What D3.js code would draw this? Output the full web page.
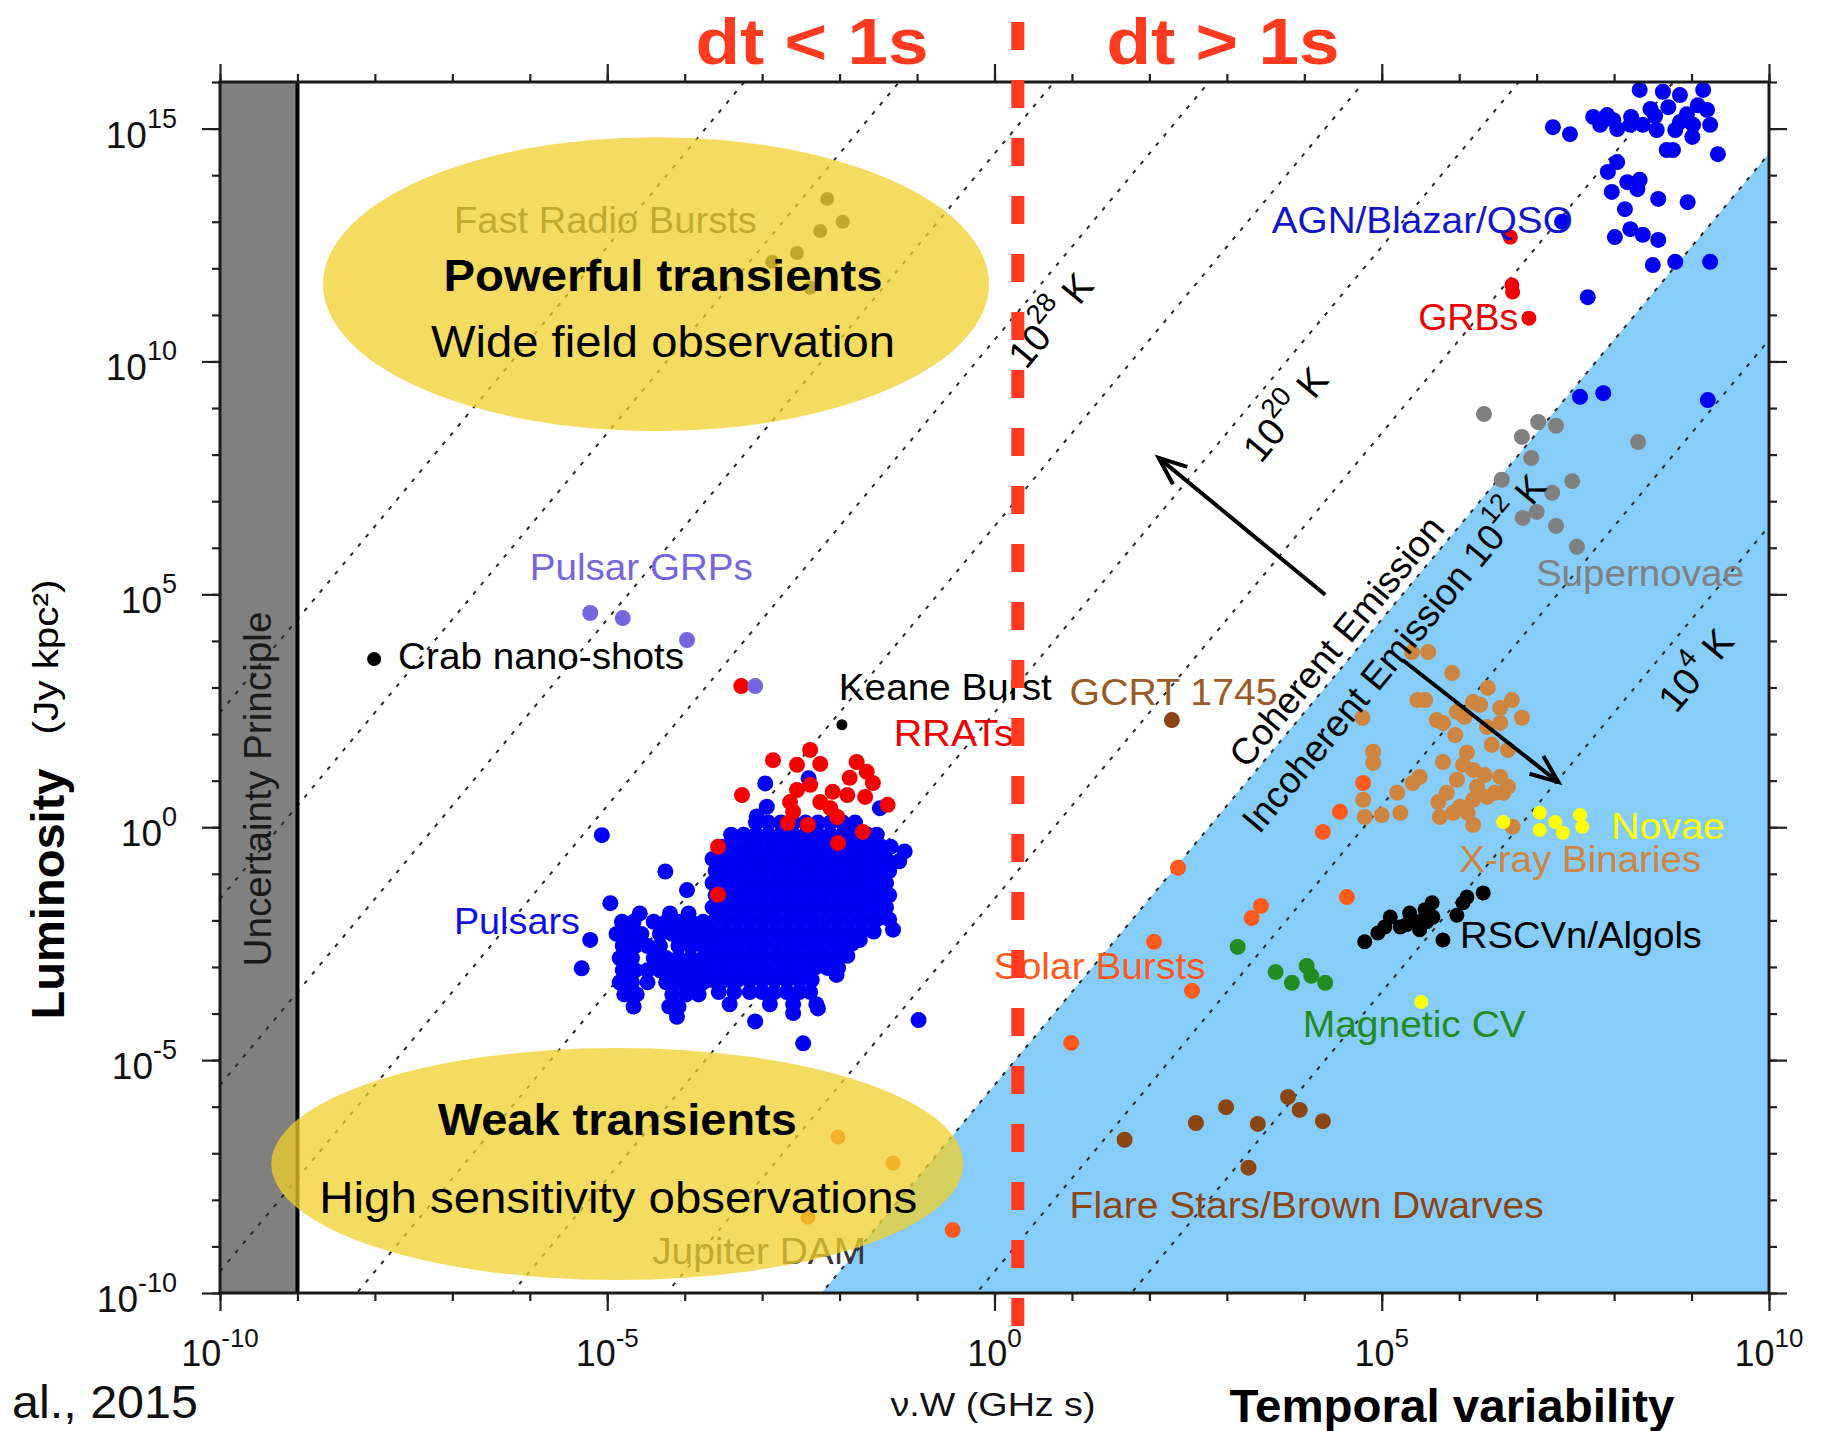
<!DOCTYPE html>
<html>
<head>
<meta charset="utf-8">
<script src="https://cdn.jsdelivr.net/npm/d3@7"></script>
<style>
  body { margin: 0; background: #fff; }
  svg { display: block; }
  text { font-family: "Liberation Sans", Arial, Helvetica, sans-serif; }
</style>
</head>
<body>
<svg id="chart" width="1827" height="1431"></svg>
<script>
// ---------------------------------------------------------------------------
// Radio transient phase space: luminosity vs. nu*W, with brightness-temperature
// lines. All source positions are given as [log10(nu W / GHz s), log10(L / Jy kpc^2)].
// ---------------------------------------------------------------------------

// Pulsar population, grouped in rows of equal log L
const pulsarRows = [
  [0.10, [-3.08,-2.92,-2.76,-2.60,-2.44,-2.28,-2.12,-1.96,-1.80]],
  [-0.16, [-3.40,-3.24,-3.08,-2.92,-2.76,-2.60,-2.44,-2.28,-2.12,-1.96,-1.80,-1.64,-1.52]],
  [-0.42, [-3.52,-3.36,-3.20,-3.04,-2.88,-2.72,-2.56,-2.40,-2.24,-2.08,-1.92,-1.76,-1.60,-1.46,-1.34]],
  [-0.68, [-3.64,-3.48,-3.32,-3.16,-3.00,-2.84,-2.68,-2.52,-2.36,-2.20,-2.04,-1.88,-1.72,-1.56,-1.40]],
  [-0.94, [-3.60,-3.44,-3.28,-3.12,-2.96,-2.80,-2.64,-2.48,-2.32,-2.16,-2.00,-1.84,-1.68,-1.52,-1.36]],
  [-1.20, [-3.64,-3.48,-3.32,-3.16,-3.00,-2.84,-2.68,-2.52,-2.36,-2.20,-2.04,-1.88,-1.72,-1.56,-1.40]],
  [-1.46, [-3.60,-3.44,-3.28,-3.12,-2.96,-2.80,-2.64,-2.48,-2.32,-2.16,-2.00,-1.84,-1.68,-1.52,-1.36]],
  [-1.72, [-3.64,-3.48,-3.32,-3.16,-3.00,-2.84,-2.68,-2.52,-2.36,-2.20,-2.04,-1.88,-1.72,-1.56,-1.40]],
  [-1.98, [-3.60,-3.44,-3.28,-3.12,-2.96,-2.80,-2.64,-2.48,-2.32,-2.16,-2.00,-1.84,-1.68,-1.52,-1.36]],
  [-2.24, [-3.64,-3.48,-3.32,-3.16,-3.00,-2.84,-2.68,-2.52,-2.36,-2.20,-2.04,-1.88,-1.72,-1.56]],
  [-2.50, [-3.60,-3.44,-3.28,-3.12,-2.96,-2.80,-2.64,-2.48,-2.32,-2.16,-2.00,-1.84]],
  [-2.76, [-3.64,-3.48,-3.32,-3.16,-3.00,-2.84,-2.68,-2.52,-2.36,-2.20,-2.04,-1.90]],
  [-3.02, [-3.60,-3.44,-3.28,-3.12,-2.96,-2.80,-2.64,-2.48,-2.32,-2.16,-2.02]],
  [-3.28, [-3.64,-3.48,-3.32,-3.16,-3.00,-2.84,-2.68,-2.52,-2.36]],
  [-3.54, [-3.56,-3.36,-3.16,-3.00,-2.84,-2.68,-2.52,-2.38]],
  [-3.80, [-3.42,-2.90,-2.60,-2.30]],
  // low-nuW lobe of the population
  [-1.85, [-4.58,-4.19,-3.95]],
  [-2.03, [-4.81,-4.66,-4.40,-4.24,-4.08,-3.92,-3.76]],
  [-2.29, [-4.88,-4.72,-4.56,-4.32,-4.16,-4.00,-3.84,-3.70]],
  [-2.55, [-4.80,-4.64,-4.48,-4.32,-4.08,-3.92,-3.76]],
  [-2.81, [-4.84,-4.68,-4.40,-4.24,-4.08,-3.92,-3.76]],
  [-3.07, [-4.80,-4.64,-4.48,-4.32,-4.16,-4.00,-3.84,-3.70]],
  [-3.33, [-4.84,-4.68,-4.48,-4.24,-4.08,-3.92,-3.76]],
  [-3.59, [-4.78,-4.62,-4.16,-3.98,-3.82]],
  [-3.85, [-4.66,-4.20,-4.08]]
];
const pulsarOutliers = [
  [-5.07,-0.17],[-4.25,-0.95],[-4.96,-1.63],[-5.22,-2.42],[-5.33,-3.03],[-0.98,-4.14],
  [-2.47,-4.64],[-1.31,-2.20],[-1.74,-2.42],[-2.04,-3.17],[-2.28,-3.89],[-2.60,-3.99],
  [-3.09,-4.17],[-4.10,-4.07],[-3.97,-1.35],[-3.07,0.23],[-2.94,0.44],[-2.96,0.94],
  [-2.40,1.05],[-1.48,0.41],[-1.87,-0.06],[-1.16,-0.52],[-1.23,-0.73],[-3.76,-2.13]
];
const rrats = [
  [-2.38,1.66],[-2.86,1.44],[-2.55,1.34],[-2.25,1.36],[-1.78,1.40],[-1.65,1.19],[-1.87,1.06],
  [-1.57,0.95],[-2.38,0.91],[-2.55,0.80],[-3.26,0.69],[-2.09,0.76],[-1.90,0.69],[-1.67,0.65],
  [-1.38,0.48],[-2.64,0.54],[-2.25,0.54],[-2.60,0.33],[-2.12,0.41],[-2.03,0.22],[-2.67,0.09],
  [-2.41,0.05],[-1.70,-0.10],[-2.02,-0.34],[-3.57,-0.42],[-3.57,-1.45],[-3.27,3.03]
];
const pulsarGRPs = [[-5.22,4.60],[-4.80,4.49],[-3.97,4.02],[-3.09,3.03]];
const crabNanoShots = [[-8.01,3.61]];
const keaneBurst = [[-1.97,2.20]];
const gcrt1745 = [[2.29,2.30]];
const fastRadioBursts = [[-2.16,13.49],[-1.96,13.00],[-2.25,12.80],[-2.55,12.33],[-2.87,12.14],[-2.38,11.58]];
const jupiterDAM = [[-2.02,-6.65],[-1.31,-7.21],[-2.41,-8.37]];
const agnBlazarQSO = [
  [7.21,15.03],[7.43,14.88],[7.73,15.25],[7.91,15.29],[7.82,15.08],[8.04,14.99],[8.21,15.08],
  [8.37,15.08],[8.55,14.97],[8.33,15.83],[8.63,15.79],[8.85,15.72],[9.15,15.83],[8.70,15.46],
  [8.94,15.31],[9.20,15.40],[8.85,15.14],[9.02,15.08],[9.24,15.08],[9.01,14.82],[8.68,14.54],
  [8.76,14.54],[9.34,14.45],[8.04,14.28],[7.92,14.07],[7.97,13.64],[8.17,13.85],[8.33,13.90],
  [8.30,13.70],[8.57,13.49],[8.95,13.42],[8.14,13.27],[8.01,12.67],[8.21,12.84],[8.37,12.72],
  [8.57,12.61],[8.50,12.07],[8.79,12.14],[9.24,12.14],[7.66,11.38],[7.33,13.00],[7.56,9.24],
  [7.86,9.32],[9.21,9.17],[8.22,15.25],[8.47,15.42],[8.53,15.27],[8.79,14.97],[7.99,15.18],[9.08,15.50]
];
const grbs = [[6.66,12.67],[6.68,11.64],[6.69,11.49],[6.90,10.93]];
const supernovae = [
  [6.32,8.87],[7.02,8.70],[7.25,8.62],[6.81,8.38],[6.93,7.93],[8.31,8.27],[6.55,7.46],
  [7.46,7.43],[7.20,7.18],[7.00,6.77],[6.82,6.64],[7.25,6.47],[7.52,6.02]
];
const xrayBinaries = [
  [5.39,3.76],[5.60,3.76],[5.91,3.31],[6.37,2.99],[5.46,2.73],[5.56,2.73],[6.18,2.69],[6.27,2.63],
  [6.68,2.73],[6.53,2.56],[6.81,2.35],[5.97,2.48],[5.71,2.30],[4.75,2.35],[5.79,2.24],[6.07,2.37],
  [6.53,2.24],[6.36,2.15],[5.95,1.98],[6.63,1.66],[6.42,1.77],[6.10,1.60],[4.89,1.62],[4.89,1.38],
  [5.79,1.40],[6.05,1.34],[6.18,1.23],[6.33,1.12],[6.53,1.08],[6.63,0.87],[6.46,0.74],[6.23,0.87],
  [5.97,1.02],[5.49,1.08],[5.40,0.95],[5.20,0.74],[5.84,0.74],[5.73,0.54],[6.01,0.44],[6.18,0.59],
  [4.76,0.59],[4.78,0.22],[5.00,0.26],[5.24,0.31],[5.75,0.22],[5.92,0.31],[6.11,0.31],[6.18,0.05],
  [6.69,0.01],[6.36,0.65],[6.57,0.74]
];
const solarBursts = [
  [-0.54,-8.65],[0.99,-4.63],[2.06,-2.46],[2.55,-3.51],[2.37,-0.87],[3.44,-1.69],
  [3.32,-1.95],[4.55,-1.50],[4.24,-0.10],[4.46,0.33],[4.76,0.95]
];
const magneticCV = [[3.14,-2.57],[3.63,-3.11],[3.84,-3.34],[4.03,-2.98],[4.09,-3.19],[4.27,-3.34]];
const flareStars = [[1.68,-6.71],[2.60,-6.35],[2.99,-6.01],[3.40,-6.37],[3.79,-5.79],[3.94,-6.07],[4.24,-6.31],[3.28,-7.31]];
const rscvnAlgols = [
  [4.78,-2.46],[4.95,-2.27],[5.11,-1.93],[5.24,-2.14],[5.36,-1.84],[5.46,-2.03],[5.56,-1.77],
  [5.65,-1.62],[5.66,-1.93],[5.58,-2.03],[5.49,-2.20],[5.04,-2.14],[5.32,-2.09],[5.97,-1.89],
  [6.05,-1.62],[6.10,-1.50],[6.31,-1.41],[5.79,-2.42]
];
const novae = [[6.57,0.11],[7.04,0.31],[7.04,-0.06],[7.24,0.11],[7.34,-0.12],[7.56,0.26],[7.59,0.01],[5.51,-3.75]];

// Brightness temperatures of the constant-T_b guide lines (K)
const brightnessTemps = [1e4,1e8,1e12,1e16,1e20,1e24,1e28,1e32,1e36,1e40];
const coherenceLimit = 1e12;          // K, boundary between coherent and incoherent emission
const TB_FACTOR = 3.448e17;           // T_b = TB_FACTOR * L / (nu W)^2, L in Jy kpc^2, nu W in GHz s
const uncertaintyLimit = 1e-9;        // nu W below which the uncertainty principle forbids
const splitNuW = 2;                   // nu W separating dt < 1 s from dt > 1 s

// Axis ticks (decade exponents)
const xMajorExps = [-10,-5,0,5,10];
const yMajorExps = [-10,-5,0,5,10,15];

// Category labels: anchor is [log nuW, log L] of the text start (baseline)
const sourceLabels = [
  {text: "Pulsar GRPs", at: [-6.00,5.31], w: 223, color: "#7566e0"},
  {text: "Crab nano-shots", at: [-7.70,3.40], w: 286, color: "#000"},
  {text: "Keane Burst", at: [-2.01,2.73], w: 213, color: "#000"},
  {text: "RRATs", at: [-1.30,1.75], w: 120, color: "#f00000"},
  {text: "GCRT 1745", at: [0.97,2.63], w: 208, color: "#9a5a25"},
  {text: "Pulsars", at: [-6.98,-2.29], w: 126, color: "#1010e6"},
  {text: "AGN/Blazar/QSO", at: [3.58,12.76], w: 301, color: "#1414c8"},
  {text: "GRBs", at: [5.47,10.68], w: 100, color: "#f00000"},
  {text: "Supernovae", at: [6.99,5.18], w: 208, color: "#808080"},
  {text: "Novae", at: [7.96,-0.25], w: 114, color: "#ffff00"},
  {text: "X-ray Binaries", at: [6.00,-0.96], w: 242, color: "#cd853f"},
  {text: "RSCVn/Algols", at: [6.01,-2.59], w: 242, color: "#000"},
  {text: "Solar Bursts", at: [-0.01,-3.26], w: 212, color: "#ff5a1e"},
  {text: "Magnetic CV", at: [3.98,-4.50], w: 223, color: "#228b22"},
  {text: "Flare Stars/Brown Dwarves", at: [0.97,-8.39], w: 474, color: "#8b4513"}
];
// Labels that sit beneath the translucent highlight ellipses
const shadedLabels = [
  {text: "Fast Radio Bursts", at: [-6.98,12.76], w: 303, color: "#3a3a3a"},
  {text: "Jupiter DAM", at: [-4.42,-9.38], w: 214, color: "#3a3a3a"}
];

// ---------------------------------------------------------------------------
const svg = d3.select("#chart");
const plot = {left: 220, right: 1769, top: 82, bottom: 1293};

const x = d3.scaleLog().domain([1e-10, 1e10]).range([plot.left, plot.right]);
const y = d3.scaleLog().domain([1e-10, 1e16]).range([plot.bottom, plot.top]);
const px = d => x(Math.pow(10, d[0]));
const py = d => y(Math.pow(10, d[1]));
const lumAtTemp = (T, nuW) => T * nuW * nuW / TB_FACTOR;

// slope of the constant-T_b lines in screen space
const lineAngle = Math.atan2(y(100) - y(1), x(10) - x(1)) * 180 / Math.PI;

svg.append("defs").append("clipPath").attr("id", "plotClip")
  .append("rect").attr("x", plot.left).attr("y", plot.top)
  .attr("width", plot.right - plot.left).attr("height", plot.bottom - plot.top);

const body = svg.append("g").attr("clip-path", "url(#plotClip)");

// incoherent-emission region (below the 1e12 K line)
body.append("path")
  .attr("d", d3.line()([
    [x(1e-10), y(lumAtTemp(coherenceLimit, 1e-10))],
    [x(1e10), y(lumAtTemp(coherenceLimit, 1e10))],
    [x(1e10), y(1e-10)]
  ]))
  .attr("fill", "#87cdfa");

// uncertainty-principle band
body.append("rect")
  .attr("x", x(1e-10)).attr("y", plot.top)
  .attr("width", x(uncertaintyLimit) - x(1e-10)).attr("height", plot.bottom - plot.top)
  .attr("fill", "#808080");

// constant brightness temperature lines
body.selectAll("path.tb").data(brightnessTemps).join("path")
  .attr("class", "tb")
  .attr("d", T => d3.line()([[x(1e-10), y(lumAtTemp(T, 1e-10))], [x(1e10), y(lumAtTemp(T, 1e10))]]))
  .attr("fill", "none").attr("stroke", "#2a2a2a").attr("stroke-width", 2)
  .attr("stroke-dasharray", "4 8");

body.append("line")
  .attr("x1", x(uncertaintyLimit)).attr("x2", x(uncertaintyLimit))
  .attr("y1", plot.top).attr("y2", plot.bottom)
  .attr("stroke", "#000").attr("stroke-width", 4);

// source populations
const pulsars = pulsarRows.flatMap(([l, xs]) => xs.map(v => [v, l])).concat(pulsarOutliers);
const series = [
  {data: fastRadioBursts, color: "#333", r: 7},
  {data: jupiterDAM, color: "#ff5a1e", r: 7.5},
  {data: pulsars, color: "#0000f5", r: 8},
  {data: rrats, color: "#f50000", r: 8},
  {data: pulsarGRPs, color: "#7566e0", r: 8},
  {data: crabNanoShots, color: "#000", r: 7},
  {data: keaneBurst, color: "#000", r: 5.5},
  {data: gcrt1745, color: "#8b4513", r: 8},
  {data: agnBlazarQSO, color: "#0000f0", r: 8},
  {data: grbs, color: "#f00000", r: 7.5},
  {data: supernovae, color: "#808080", r: 8},
  {data: xrayBinaries, color: "#cd853f", r: 8},
  {data: solarBursts, color: "#ff5a1e", r: 8},
  {data: magneticCV, color: "#228b22", r: 8},
  {data: flareStars, color: "#8b4513", r: 8},
  {data: rscvnAlgols, color: "#000", r: 7.5},
  {data: novae, color: "#ffff00", r: 7}
];
series.forEach(s => {
  body.append("g").selectAll("circle").data(s.data).join("circle")
    .attr("cx", px).attr("cy", py).attr("r", s.r).attr("fill", s.color);
});

function addLabel(g, l, size) {
  g.append("text")
    .attr("x", px(l.at)).attr("y", py(l.at))
    .attr("font-size", size).attr("fill", l.color)
    .attr("textLength", l.w).attr("lengthAdjust", "spacingAndGlyphs")
    .text(l.text);
}
shadedLabels.forEach(l => addLabel(body, l, 37));

// highlight ellipses
const highlights = [
  {c: [-4.37, 11.66], rx: 333, ry: 147,
   lines: [{t: "Powerful transients", bold: true, dx: 7, dy: 7, w: 439},
           {t: "Wide field observation", bold: false, dx: 7, dy: 73, w: 464}]},
  {c: [-4.87, -7.23], rx: 346, ry: 116,
   lines: [{t: "Weak transients", bold: true, dx: 0, dy: -29, w: 359},
           {t: "High sensitivity observations", bold: false, dx: 1, dy: 49, w: 598}]}
];
const hl = svg.append("g");
highlights.forEach(h => {
  hl.append("ellipse").attr("cx", px(h.c)).attr("cy", py(h.c))
    .attr("rx", h.rx).attr("ry", h.ry)
    .attr("fill", "rgb(240,208,43)").attr("fill-opacity", 0.75);
});
highlights.forEach(h => {
  h.lines.forEach(l => {
    hl.append("text")
      .attr("x", px(h.c) + l.dx).attr("y", py(h.c) + l.dy)
      .attr("text-anchor", "middle").attr("font-size", 45)
      .attr("font-weight", l.bold ? "bold" : "normal").attr("fill", "#000")
      .attr("textLength", l.w).attr("lengthAdjust", "spacingAndGlyphs")
      .text(l.t);
  });
});

// source labels
const lab = svg.append("g");
sourceLabels.forEach(l => addLabel(lab, l, 37));

// rotated annotations along the T_b lines
const rotated = [
  {at: [0.72, 10.89], parts: ["10", "28", " K"], size: 38},
  {at: [3.75, 8.87], parts: ["10", "20", " K"], size: 38},
  {at: [9.05, 3.38], parts: ["10", "4", " K"], size: 38},
  {at: [4.41, 4.00], parts: ["Coherent Emission"], size: 37},
  {at: [5.15, 3.74], parts: ["Incoherent Emission 10", "12", " K"], size: 37}
];
rotated.forEach(r => {
  const g = lab.append("g")
    .attr("transform", `translate(${px(r.at)},${py(r.at)}) rotate(${lineAngle})`);
  const t = g.append("text").attr("text-anchor", "middle")
    .attr("y", r.size * 0.36).attr("font-size", r.size).attr("fill", "#000");
  t.append("tspan").text(r.parts[0]);
  if (r.parts.length > 1) {
    const sup = Math.round(r.size * 0.5);
    t.append("tspan").attr("dy", -sup).attr("font-size", r.size * 0.72).text(r.parts[1]);
    t.append("tspan").attr("dy", sup).text(r.parts[2]);
  }
});

// arrows: toward higher and lower brightness temperature
const arrows = [
  {from: [4.27, 4.99], to: [2.12, 7.93]},
  {from: [5.27, 3.59], to: [7.28, 0.97]}
];
arrows.forEach(a => {
  const x0 = px(a.from), y0 = py(a.from), x1 = px(a.to), y1 = py(a.to);
  const th = Math.atan2(y1 - y0, x1 - x0), phi = 22 * Math.PI / 180, len = 30;
  lab.append("line").attr("x1", x0).attr("y1", y0).attr("x2", x1).attr("y2", y1)
    .attr("stroke", "#000").attr("stroke-width", 4);
  lab.append("path")
    .attr("d", d3.line()([
      [x1 - len * Math.cos(th - phi), y1 - len * Math.sin(th - phi)],
      [x1, y1],
      [x1 - len * Math.cos(th + phi), y1 - len * Math.sin(th + phi)]
    ]))
    .attr("fill", "none").attr("stroke", "#000").attr("stroke-width", 4)
    .attr("stroke-linejoin", "miter");
});

// uncertainty band caption, centred in the band
svg.append("text")
  .attr("transform", `translate(${x(Math.pow(10, -9.5)) + 12},${y(Math.pow(10, 0.82))}) rotate(-90)`)
  .attr("text-anchor", "middle").attr("font-size", 38).attr("fill", "#1a1a1a")
  .attr("textLength", 355).attr("lengthAdjust", "spacingAndGlyphs")
  .text("Uncertainty Principle");

// ---------------------------------------------------------------------------
// axes: outward ticks on all four sides
const xMinor = d3.range(-10, 11).map(e => Math.pow(10, e));
const yMinor = d3.range(-10, 17).map(e => Math.pow(10, e));
const xMajor = xMajorExps.map(e => Math.pow(10, e));
const yMajor = yMajorExps.map(e => Math.pow(10, e));
function ticks(axis, transform, values, size) {
  svg.append("g").attr("transform", transform)
    .call(axis.tickValues(values).tickSize(size).tickFormat(() => ""))
    .call(g => g.select(".domain").remove())
    .call(g => g.selectAll(".tick line").attr("stroke", "#222").attr("stroke-width", 2.2));
}
[[8, xMinor, yMinor], [18, xMajor, yMajor]].forEach(([s, xv, yv]) => {
  ticks(d3.axisBottom(x), `translate(0,${plot.bottom})`, xv, s);
  ticks(d3.axisTop(x), `translate(0,${plot.top})`, xv, s);
  ticks(d3.axisLeft(y), `translate(${plot.left},0)`, yv, s);
  ticks(d3.axisRight(y), `translate(${plot.right},0)`, yv, s);
});

svg.append("rect")
  .attr("x", plot.left).attr("y", plot.top)
  .attr("width", plot.right - plot.left).attr("height", plot.bottom - plot.top)
  .attr("fill", "none").attr("stroke", "#1a1a1a").attr("stroke-width", 3);

// tick labels as powers of ten
xMajorExps.forEach(e => {
  const t = svg.append("text").attr("x", x(Math.pow(10, e))).attr("y", 1366)
    .attr("text-anchor", "middle").attr("font-size", 36).attr("fill", "#111");
  t.append("tspan").text("10");
  t.append("tspan").attr("dy", -19).attr("font-size", 26).text(e);
});
yMajorExps.forEach(e => {
  const t = svg.append("text").attr("x", 177).attr("y", y(Math.pow(10, e)) + 19)
    .attr("text-anchor", "end").attr("font-size", 37).attr("fill", "#111");
  t.append("tspan").text("10");
  t.append("tspan").attr("dy", -20).attr("font-size", 27).text(e);
});

// axis titles
svg.append("text").attr("transform", "translate(64,894) rotate(-90)")
  .attr("text-anchor", "middle").attr("font-size", 46).attr("font-weight", "bold")
  .attr("textLength", 251).attr("lengthAdjust", "spacingAndGlyphs").text("Luminosity");
svg.append("text").attr("transform", "translate(58,657) rotate(-90)")
  .attr("text-anchor", "middle").attr("font-size", 35)
  .attr("textLength", 155).attr("lengthAdjust", "spacingAndGlyphs").text("(Jy kpc²)");
svg.append("text").attr("x", 993).attr("y", 1416)
  .attr("text-anchor", "middle").attr("font-size", 34).attr("fill", "#111")
  .attr("textLength", 205).attr("lengthAdjust", "spacingAndGlyphs").text("ν.W (GHz s)");
svg.append("text").attr("x", 1452).attr("y", 1422)
  .attr("text-anchor", "middle").attr("font-size", 46).attr("font-weight", "bold")
  .attr("textLength", 445).attr("lengthAdjust", "spacingAndGlyphs").text("Temporal variability");
svg.append("text").attr("x", 12).attr("y", 1418)
  .attr("font-size", 46).attr("fill", "#111")
  .attr("textLength", 186).attr("lengthAdjust", "spacingAndGlyphs").text("al., 2015");

// dt = 1 s divider and its captions
svg.append("line")
  .attr("x1", x(splitNuW)).attr("x2", x(splitNuW)).attr("y1", 22).attr("y2", 1326)
  .attr("stroke", "#ff3a1f").attr("stroke-width", 13).attr("stroke-dasharray", "28 30");
[["dt < 1s", 812], ["dt > 1s", 1223]].forEach(([t, cx]) => {
  svg.append("text").attr("x", cx).attr("y", 64)
    .attr("text-anchor", "middle").attr("font-size", 64).attr("font-weight", "bold")
    .attr("fill", "#ff3a1f").attr("textLength", 233).attr("lengthAdjust", "spacingAndGlyphs")
    .text(t);
});
</script>
</body>
</html>
